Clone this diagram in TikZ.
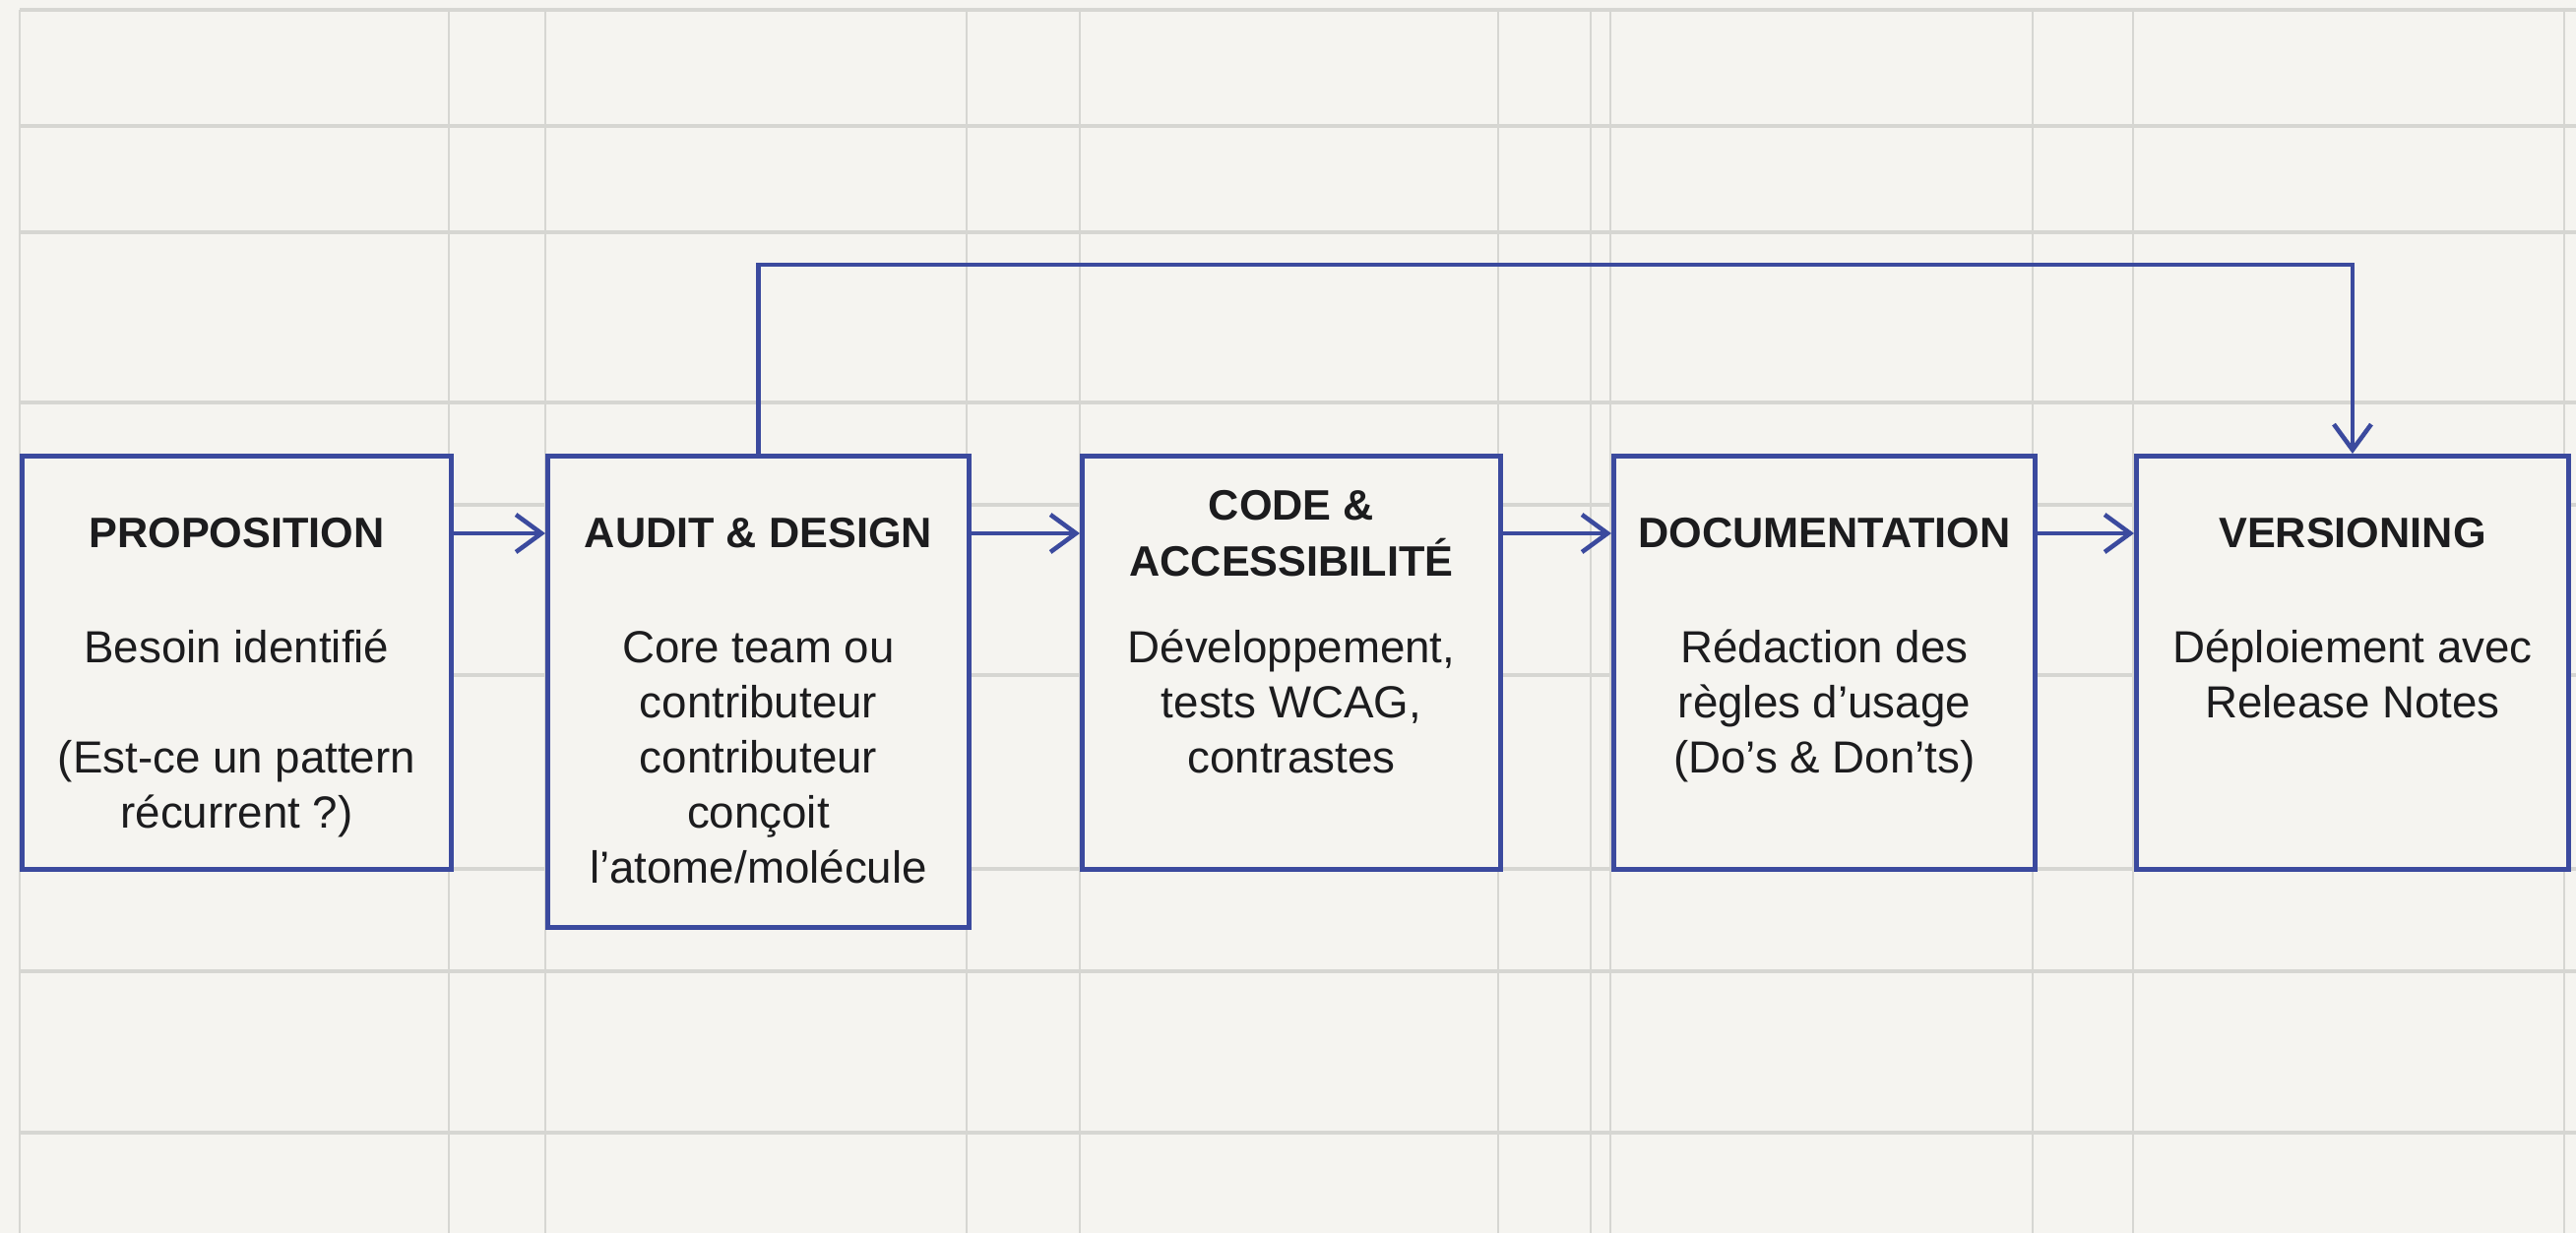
\documentclass[tikz,border=0pt]{standalone}
\usepackage{fontspec}
\setmainfont{Liberation Sans}
\usetikzlibrary{arrows.meta}
\usetikzlibrary{positioning}
\definecolor{paper}{RGB}{245,244,240}
\definecolor{gridgray}{RGB}{214,214,210}
\definecolor{flowblue}{RGB}{59,74,158}
\definecolor{inkblack}{RGB}{28,28,30}

\begin{document}
\begin{tikzpicture}[>={Straight Barb[length=0.26cm, width=0.38cm]},
  stepbox/.style={draw=flowblue, line width=1.4pt, fill=paper, rectangle, anchor=north west, minimum height=4.2cm, inner sep=0pt},
  steptitle/.style={text=inkblack, font=\fontsize{12.3}{16.2}\selectfont\bfseries, align=center},
  steptext/.style={text=inkblack, font=\fontsize{13}{15.9}\selectfont, align=center, anchor=north, inner sep=0pt},
  flow/.style={->, draw=flowblue, line width=1.3pt},
  hline/.style={gridgray, line width=1.1pt},
  vline/.style={gridgray, line width=0.6pt}]

\fill[paper] (0,0) rectangle (26.17,-12.53);
\useasboundingbox (0,0) rectangle (26.17,-12.53);

% grid
\draw[hline] (0.20,-0.10) -- (26.17,-0.10);
\draw[hline] (0.20,-1.28) -- (26.17,-1.28);
\draw[hline] (0.20,-2.36) -- (26.17,-2.36);
\draw[hline] (0.20,-4.09) -- (26.17,-4.09);
\draw[hline] (0.20,-5.13) -- (26.17,-5.13);
\draw[hline] (0.20,-6.86) -- (26.17,-6.86);
\draw[hline] (0.20,-8.83) -- (26.17,-8.83);
\draw[hline] (0.20,-9.87) -- (26.17,-9.87);
\draw[hline] (0.20,-11.51) -- (26.17,-11.51);
\draw[vline] (0.20,-0.10) -- (0.20,-12.53);
\draw[vline] (4.56,-0.10) -- (4.56,-12.53);
\draw[vline] (5.54,-0.10) -- (5.54,-12.53);
\draw[vline] (9.82,-0.10) -- (9.82,-12.53);
\draw[vline] (10.97,-0.10) -- (10.97,-12.53);
\draw[vline] (15.22,-0.10) -- (15.22,-12.53);
\draw[vline] (16.16,-0.10) -- (16.16,-12.53);
\draw[vline] (16.36,-0.10) -- (16.36,-12.53);
\draw[vline] (20.65,-0.10) -- (20.65,-12.53);
\draw[vline] (21.67,-0.10) -- (21.67,-12.53);
\draw[vline] (26.05,-0.10) -- (26.05,-12.53);

% steps
\node[stepbox, minimum width=4.36cm] (propBox) at (0.20,-4.61) {};
\node[stepbox, minimum width=4.28cm, minimum height=4.79cm] (auditBox) at (5.54,-4.61) {};
\node[stepbox, minimum width=4.25cm] (codeBox) at (10.97,-4.61) {};
\node[stepbox, minimum width=4.28cm] (docBox) at (16.37,-4.61) {};
\node[stepbox, minimum width=4.39cm] (versBox) at (21.68,-4.61) {};

\node[steptitle] (propTitle) at ([yshift=-0.81cm]propBox.north) {PROPOSITION};
\node[steptitle] (auditTitle) at ([yshift=-0.81cm]auditBox.north) {AUDIT \& DESIGN};
\node[steptitle] (codeTitle) at ([yshift=-0.81cm]codeBox.north) {CODE \&\\ACCESSIBILITÉ};
\node[steptitle] (docTitle) at ([yshift=-0.81cm]docBox.north) {DOCUMENTATION};
\node[steptitle] (versTitle) at ([yshift=-0.81cm]versBox.north) {VERSIONING};

\node[steptext] (propText) at ([yshift=-1.73cm]propBox.north) {\strut Besoin identifié\\[\baselineskip](Est-ce un pattern\\récurrent ?)};
\node[steptext] (auditText) at ([yshift=-1.73cm]auditBox.north) {\strut Core team ou\\contributeur\\contributeur\\conçoit\\l'atome/molécule};
\node[steptext] (codeText) at ([yshift=-1.73cm]codeBox.north) {\strut Développement,\\tests WCAG,\\contrastes};
\node[steptext] (docText) at ([yshift=-1.73cm]docBox.north) {\strut Rédaction des\\règles d’usage\\(Do’s \& Don’ts)};
\node[steptext] (versText) at ([yshift=-1.73cm]versBox.north) {\strut Déploiement avec\\Release Notes};

% connectors
\draw[flow] (propBox.east |- propTitle.center) -- (auditBox.west |- propTitle.center);
\draw[flow] (auditBox.east |- propTitle.center) -- (codeBox.west |- propTitle.center);
\draw[flow] (codeBox.east |- propTitle.center) -- (docBox.west |- propTitle.center);
\draw[flow] (docBox.east |- propTitle.center) -- (versBox.west |- propTitle.center);
\draw[flow] (auditBox.north) -- ++(0,1.92) -| (versBox.north);
\end{tikzpicture}
\end{document}
